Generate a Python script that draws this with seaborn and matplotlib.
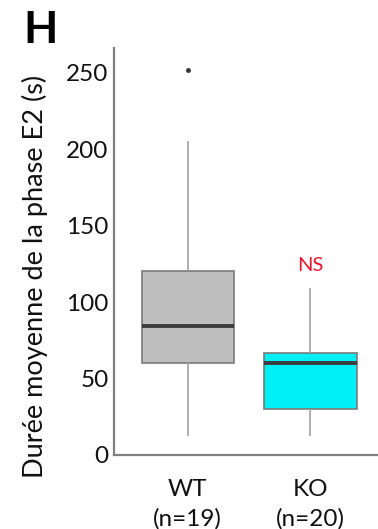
import numpy as np
import pandas as pd
import matplotlib
matplotlib.use("Agg")
import matplotlib.pyplot as plt
import seaborn as sns

# valeurs (durée moyenne de la phase E2, en s)
wt_values = [12.4, 25, 38, 50, 60.2, 60.2, 66, 72, 79, 84.4,
             90, 97, 108, 120, 120, 140, 168, 205, 252]
ko_values = [12.4, 18, 22, 27, 30, 30, 38, 45, 52, 60.2,
             60.2, 62, 63, 65, 66.8, 66.8, 75, 84, 95, 109]
groups = ["WT", "KO"]
group_labels = ["WT\n(n=19)", "KO\n(n=20)"]
colors = {"WT": "#BEBEBE", "KO": "#00EEF6"}
y_ticks = [0, 50, 100, 150, 200, 250]


def main():
    sns.set_style("white")
    plt.rcParams["font.family"] = ["Lato", "DejaVu Sans"]

    df = pd.DataFrame({
        "groupe": ["WT"] * len(wt_values) + ["KO"] * len(ko_values),
        "duree": wt_values + ko_values,
    })

    fig = plt.figure(figsize=(3.78, 5.29), dpi=100)
    ax = fig.add_axes([0.3016, 0.1399, 0.6984, 0.7691])

    sns.boxplot(data=df, x="groupe", y="duree", hue="groupe", order=groups,
                palette=colors, legend=False, width=0.75, showcaps=False,
                saturation=1, whis=1.5, ax=ax,
                boxprops=dict(edgecolor="#7a7a7a", linewidth=1.2),
                medianprops=dict(color="#3c3c3c", linewidth=2.8),
                whiskerprops=dict(color="#a8a8a8", linewidth=1.3),
                flierprops=dict(marker="o", markersize=2.5,
                                markerfacecolor="#333333",
                                markeredgecolor="#333333"))

    ax.set_xlim(-0.6, 1.55)
    ax.set_ylim(0, 266)
    ax.set_yticks(y_ticks)
    ax.set_yticklabels([str(v) for v in y_ticks], fontsize=17.5, color="#111111")
    ax.set_xticks(range(len(groups)))
    ax.set_xticklabels(group_labels, fontsize=17.5, color="#111111",
                       linespacing=1.5)
    ax.tick_params(axis="y", length=2, width=1, color="#888888", pad=2)
    ax.tick_params(axis="x", length=4, width=1, color="#aaaaaa", pad=13)

    for side in ["top", "right"]:
        ax.spines[side].set_visible(False)
    for side in ["left", "bottom"]:
        ax.spines[side].set_color("#808080")
        ax.spines[side].set_linewidth(1.6)

    ax.set_xlabel("")
    ax.set_ylabel("Durée moyenne de la phase E2 (s)", fontsize=19.5,
                  color="#111111")
    ax.yaxis.set_label_coords(-0.25, 0.438)

    ax.text(1, 124, "NS", ha="center", va="center", fontsize=14.5,
            color="#e8182c")
    fig.text(0.062, 0.944, "H", fontsize=32, fontweight="bold",
             ha="left", va="center", color="#000000")

    fig.savefig("out.png", dpi=100)
    plt.close(fig)


if __name__ == "__main__":
    main()
